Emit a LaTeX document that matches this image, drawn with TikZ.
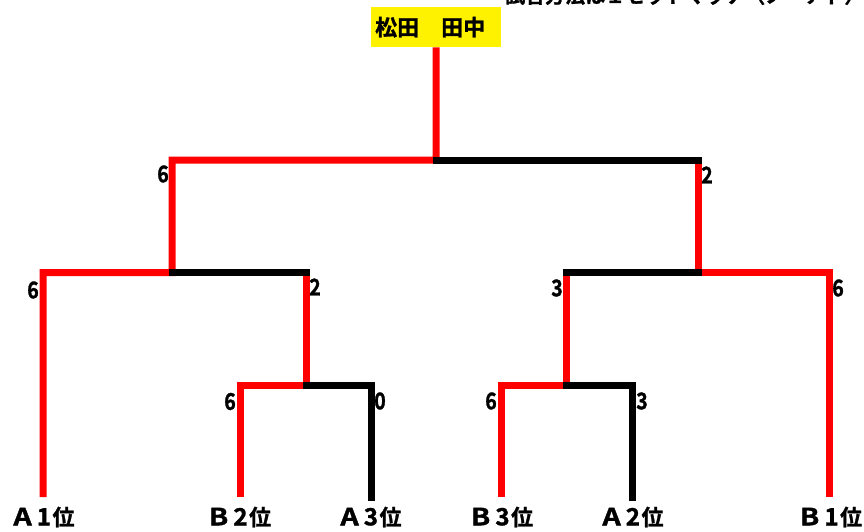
\documentclass[tikz,border=0pt]{standalone}
\usepackage{fontspec}
\setmainfont{Noto Sans CJK JP}[BoldFont={Noto Sans CJK JP Bold}, BoldFeatures={FakeBold=1.2}]
\newcommand{\rankl}[2]{\scalebox{1.3}[1.08]{#1}\hspace{5pt}\scalebox{1.1}[1.08]{#2}\hspace{1.5pt}位}
\newcommand{\scorenum}[1]{\scalebox{0.85}[1]{#1}}
\begin{document}
\begin{tikzpicture}[x=1pt,y=-1pt,
  win/.style={draw=red, line width=7pt, line join=miter},
  lose/.style={draw=black, line width=7pt, line join=miter, line cap=rect},
  score/.style={font=\bfseries\fontsize{23}{23}\selectfont, inner sep=0pt},
  leaf/.style={font=\bfseries\fontsize{22}{22}\selectfont, inner sep=0pt},
  champ/.style={fill=yellow, font=\bfseries\fontsize{22}{22}\selectfont, minimum height=40pt, text width=122pt, inner xsep=4pt, inner ysep=0pt, align=left},
  caption/.style={font=\bfseries\fontsize{20}{20}\selectfont, inner sep=0pt}]
\useasboundingbox (0,0) rectangle (864,532);

% clipped header text
\node[caption, anchor=base west] (head) at (505,3) {試合方法は１セットマッチ（ノーアド）};

% champion box
\node[champ, anchor=north west] (top) at (371,7) {松田　田中};

% junction coordinates
\coordinate (J0) at (436,160);
\coordinate (TL) at (172,160);
\coordinate (TR) at (698,160);
\coordinate (LL) at (43,272.5);
\coordinate (LM) at (172,272.5);
\coordinate (LR) at (306,272.5);
\coordinate (RL) at (566,272.5);
\coordinate (RM) at (698,272.5);
\coordinate (RR) at (829,272.5);
\coordinate (l3L) at (240,385.5);
\coordinate (l3M) at (306,385.5);
\coordinate (l3R) at (371,385.5);
\coordinate (r3L) at (501,385.5);
\coordinate (r3M) at (566,385.5);
\coordinate (r3R) at (632,385.5);

% leaves
\node[leaf] (a1) at (44,517) {\rankl{A}{1}};
\node[leaf] (b2) at (240,517) {\rankl{B}{2}};
\node[leaf] (a3) at (371,517) {\rankl{A}{3}};
\node[leaf] (b3) at (502,517) {\rankl{B}{3}};
\node[leaf] (a2) at (633,517) {\rankl{A}{2}};
\node[leaf] (b1) at (831,517) {\rankl{B}{1}};
\coordinate (a1e) at (43,497);
\coordinate (b2e) at (240,497);
\coordinate (a3e) at (371,497);
\coordinate (b3e) at (501,497);
\coordinate (a2e) at (632,497);
\coordinate (b1e) at (829,497);

% winning paths
\draw[win] (a1e) -- (LL) -- (LM) -- (TL) -- (J0) -- (top.south);
\draw[win] (b2e) -- (l3L) -- (l3M) -- (LR);
\draw[win] (b3e) -- (r3L) -- (r3M) -- (RL);
\draw[win] (b1e) -- (RR) -- (RM) -- (TR);

% losing paths
\draw[lose] (a3e) -- (l3R) -- (l3M);
\draw[lose] (a2e) -- (r3R) -- (r3M);
\draw[lose] (LR) -- (LM);
\draw[lose] (RL) -- (RM);
\draw[lose] (TR) -- (J0);

% scores
\node[score] (s1) at (163,174) {\scorenum{6}};
\node[score] (s2) at (707,175) {\scorenum{2}};
\node[score] (s3) at (33,290) {\scorenum{6}};
\node[score] (s4) at (315,287) {\scorenum{2}};
\node[score] (s5) at (557,288) {\scorenum{3}};
\node[score] (s6) at (838,288) {\scorenum{6}};
\node[score] (s7) at (230,401.5) {\scorenum{6}};
\node[score] (s8) at (380,401) {\scorenum{0}};
\node[score] (s9) at (491,401) {\scorenum{6}};
\node[score] (s10) at (642,401) {\scorenum{3}};
\end{tikzpicture}
\end{document}
